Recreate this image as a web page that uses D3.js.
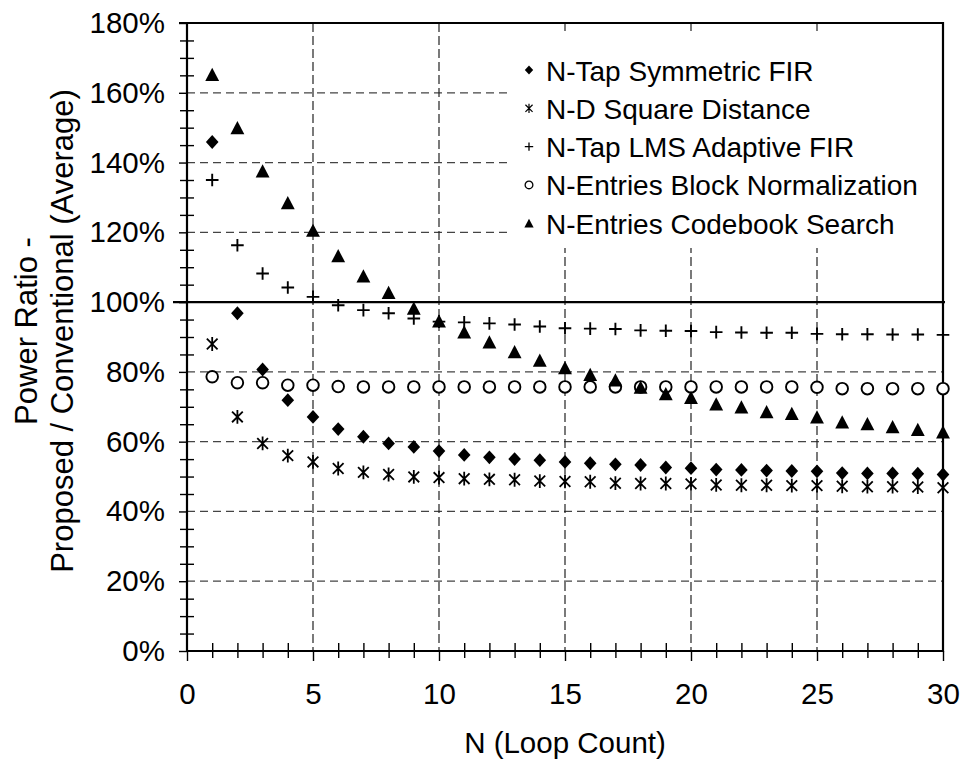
<!DOCTYPE html>
<html>
<head>
<meta charset="utf-8">
<script src="https://cdn.jsdelivr.net/npm/d3@7"></script>
<style>
  html, body { margin: 0; padding: 0; background: #fff; }
  svg { display: block; }
  text { font-family: "Liberation Sans", Arial, sans-serif; fill: #000; }
</style>
</head>
<body>
<svg id="chart" width="962" height="762"></svg>
<script>
// ---------------- data ----------------
const loopCount = d3.range(1, 31); // N = 1..30
const seriesNames = [
  "N-Tap Symmetric FIR",
  "N-D Square Distance",
  "N-Tap LMS Adaptive FIR",
  "N-Entries Block Normalization",
  "N-Entries Codebook Search"
];
const symmetricFIR = [145.9, 96.8, 80.7, 71.9, 67.1, 63.6, 61.4, 59.5, 58.5, 57.3,
  56.2, 55.5, 55.0, 54.7, 54.2, 53.8, 53.5, 53.3, 52.6, 52.4,
  52.0, 51.9, 51.7, 51.6, 51.5, 51.0, 50.9, 50.9, 50.8, 50.6];
const squareDistance = [88.0, 67.1, 59.5, 56.0, 54.2, 52.3, 51.2, 50.6, 49.9, 49.7,
  49.4, 49.2, 49.1, 48.7, 48.6, 48.5, 48.1, 48.0, 48.0, 47.9,
  47.6, 47.5, 47.5, 47.4, 47.4, 47.2, 47.1, 47.1, 47.0, 46.8];
const lmsAdaptiveFIR = [135.0, 116.3, 108.2, 104.2, 101.5, 99.1, 97.7, 96.8, 95.3, 94.4,
  94.2, 93.9, 93.6, 93.0, 92.5, 92.4, 92.3, 91.9, 91.8, 91.7,
  91.4, 91.3, 91.2, 91.2, 90.9, 90.8, 90.8, 90.7, 90.7, 90.6];
const blockNormalization = [78.6, 76.9, 76.9, 76.2, 76.2, 75.8, 75.7, 75.7, 75.7, 75.7,
  75.7, 75.7, 75.7, 75.7, 75.7, 75.7, 75.7, 75.7, 75.7, 75.7,
  75.7, 75.7, 75.7, 75.7, 75.6, 75.2, 75.2, 75.2, 75.2, 75.2];
const codebookSearch = [165.3, 150.0, 137.6, 128.5, 120.6, 113.3, 107.5, 102.8, 98.3, 94.6,
  91.5, 88.6, 85.8, 83.4, 81.2, 79.3, 77.7, 75.6, 73.8, 72.7,
  70.8, 70.0, 68.6, 68.1, 67.1, 65.7, 65.2, 64.3, 63.5, 62.8];
const xTickValues = [0, 5, 10, 15, 20, 25, 30];
const yTickValues = [0, 20, 40, 60, 80, 100, 120, 140, 160, 180];
const xTitle = "N (Loop Count)";
const yTitleLines = ["Power Ratio -", "Proposed / Conventional (Average)"];

// ---------------- setup ----------------
const svg = d3.select("#chart");
const L = 187, R = 943, T = 23, B = 651;
const x = d3.scaleLinear().domain([0, 30]).range([L, R]);
const y = d3.scaleLinear().domain([0, 180]).range([B, T]);

// marker shapes
const markerDefs = [
  { key: "diamond", data: symmetricFIR },
  { key: "asterisk", data: squareDistance },
  { key: "plus", data: lmsAdaptiveFIR },
  { key: "circle", data: blockNormalization },
  { key: "triangle", data: codebookSearch }
];
function drawMarker(g, key, s) {
  // s = half size
  if (key === "diamond") {
    g.append("path").attr("d", `M0,${-s*1.1}L${s},0L0,${s*1.1}L${-s},0Z`).attr("fill", "#000");
  } else if (key === "triangle") {
    g.append("path").attr("d", `M0,${-s*1.05}L${s*1.1},${s*1.05}L${-s*1.1},${s*1.05}Z`).attr("fill", "#000");
  } else if (key === "circle") {
    g.append("circle").attr("r", s*0.92).attr("fill", "#fff").attr("stroke", "#000").attr("stroke-width", s > 5 ? 1.9 : 1.3);
  } else if (key === "plus") {
    g.append("path").attr("d", `M${-s},0L${s},0M0,${-s}L0,${s}`).attr("stroke", "#000").attr("stroke-width", s > 5 ? 1.9 : 1.3).attr("fill", "none");
  } else if (key === "asterisk") {
    const a = s * 0.85;
    g.append("path").attr("d", `M${-a},${-a}L${a},${a}M${-a},${a}L${a},${-a}M0,${-s*1.1}L0,${s*1.1}`)
      .attr("stroke", "#000").attr("stroke-width", s > 5 ? 1.8 : 1.2).attr("fill", "none");
  }
}

// ---------------- gridlines ----------------
const grid = svg.append("g");
grid.selectAll("line.hg").data(yTickValues.filter(v => v > 0 && v < 180 && v !== 100))
  .join("line").attr("class", "hg")
  .attr("x1", L).attr("x2", R).attr("y1", d => y(d)).attr("y2", d => y(d))
  .attr("stroke", "#444").attr("stroke-width", 1.2).attr("stroke-dasharray", "8,5");
grid.selectAll("line.vg").data(xTickValues.filter(v => v > 0 && v < 30))
  .join("line").attr("class", "vg")
  .attr("x1", d => x(d)).attr("x2", d => x(d)).attr("y1", T).attr("y2", B)
  .attr("stroke", "#222").attr("stroke-width", 1.2).attr("stroke-dasharray", "9,4");

// ---------------- legend background ----------------
svg.append("rect").attr("x", 512).attr("y", 31).attr("width", R - 513).attr("height", 217).attr("fill", "#fff");

// ---------------- 100% reference line ----------------
svg.append("line").attr("x1", L - 14).attr("x2", R + 2).attr("y1", y(100)).attr("y2", y(100))
  .attr("stroke", "#000").attr("stroke-width", 2.2);

// ---------------- axes ----------------
const minorX = d3.range(0, 31);
const minorY = d3.range(0, 181, 5);

// x axis: minor ticks crossing, major ticks outside
svg.append("g").attr("transform", `translate(0,${B})`)
  .call(d3.axisBottom(x).tickValues(minorX.filter(v => v % 5 !== 0)).tickSize(7).tickFormat(""))
  .call(g => g.select(".domain").remove());
svg.append("g").attr("transform", `translate(0,${B})`)
  .call(d3.axisBottom(x).tickValues(minorX.filter(v => v % 5 !== 0)).tickSize(-8).tickFormat(""))
  .call(g => g.select(".domain").remove());
svg.append("g").attr("transform", `translate(0,${B})`)
  .call(d3.axisBottom(x).tickValues(xTickValues).tickSize(10).tickPadding(22).tickFormat(d3.format("d")))
  .call(g => g.select(".domain").remove())
  .call(g => g.selectAll("text").attr("font-size", 29.5).attr("font-family", "Liberation Sans, Arial, sans-serif").attr("fill", "#000"));

// y axis
svg.append("g").attr("transform", `translate(${L},0)`)
  .call(d3.axisLeft(y).tickValues(minorY.filter(v => v % 20 !== 0)).tickSize(7).tickFormat(""))
  .call(g => g.select(".domain").remove());
svg.append("g").attr("transform", `translate(${L},0)`)
  .call(d3.axisLeft(y).tickValues(minorY.filter(v => v % 20 !== 0)).tickSize(-7).tickFormat(""))
  .call(g => g.select(".domain").remove());
svg.append("g").attr("transform", `translate(${L},0)`)
  .call(d3.axisLeft(y).tickValues(yTickValues).tickSize(8).tickPadding(14).tickFormat(d => d + "%"))
  .call(g => g.select(".domain").remove())
  .call(g => g.selectAll("text").attr("font-size", 29.5).attr("font-family", "Liberation Sans, Arial, sans-serif").attr("fill", "#000"));
svg.selectAll(".tick line").attr("stroke", "#000").attr("stroke-width", 1.4);

// frame lines
svg.append("line").attr("x1", L).attr("x2", L).attr("y1", T - 1).attr("y2", B + 1).attr("stroke", "#000").attr("stroke-width", 2.2);
svg.append("line").attr("x1", L - 1).attr("x2", R + 1).attr("y1", B).attr("y2", B).attr("stroke", "#000").attr("stroke-width", 2.2);
svg.append("line").attr("x1", L - 8).attr("x2", R + 1).attr("y1", T).attr("y2", T).attr("stroke", "#000").attr("stroke-width", 2.2);
svg.append("line").attr("x1", R).attr("x2", R).attr("y1", T - 1).attr("y2", B + 1).attr("stroke", "#000").attr("stroke-width", 2.2);

// ---------------- data markers ----------------
markerDefs.forEach(m => {
  const g = svg.append("g");
  m.data.forEach((v, i) => {
    const mg = g.append("g").attr("transform", `translate(${x(loopCount[i])},${y(v)})`);
    drawMarker(mg, m.key, 6.3);
  });
});

// ---------------- legend ----------------
const legend = svg.append("g");
seriesNames.forEach((name, i) => {
  const cy = 70 + i * 38.3;
  const mg = legend.append("g").attr("transform", `translate(529,${cy})`);
  drawMarker(mg, markerDefs[i].key, 4.2);
  legend.append("text").attr("x", 546).attr("y", cy + 10.5).attr("font-size", 28).text(name);
});

// ---------------- titles ----------------
svg.append("text").attr("x", (L + R) / 2).attr("y", 753).attr("text-anchor", "middle")
  .attr("font-size", 29.5).text(xTitle);
const yt = svg.append("g").attr("transform", "translate(0,331) rotate(-90)");
yt.append("text").attr("x", 0).attr("y", 37).attr("text-anchor", "middle").attr("font-size", 31).text(yTitleLines[0]);
yt.append("text").attr("x", 0).attr("y", 73).attr("text-anchor", "middle").attr("font-size", 31).text(yTitleLines[1]);
</script>
</body>
</html>
